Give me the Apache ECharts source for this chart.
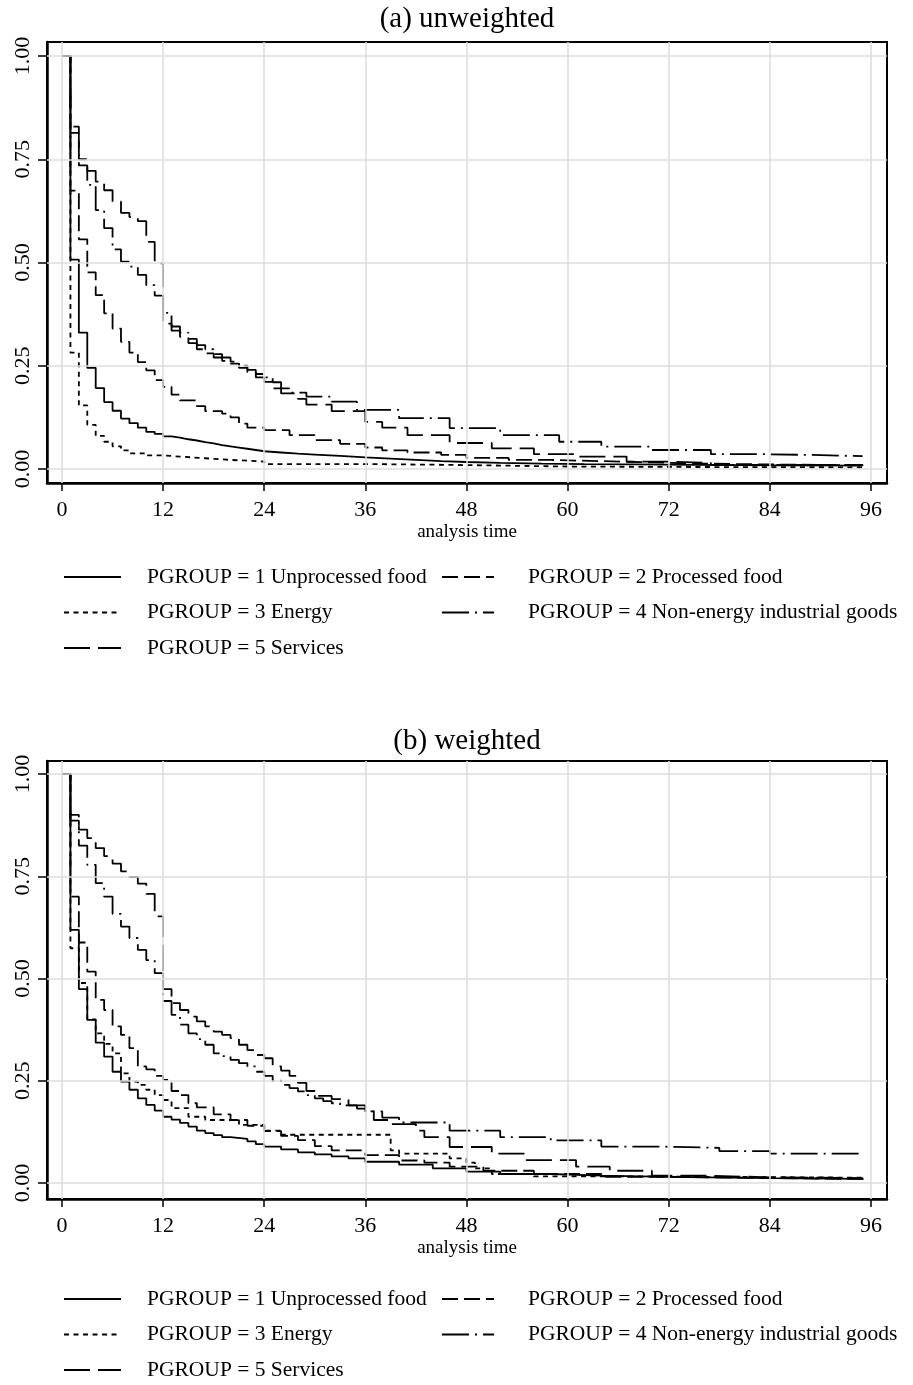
<!DOCTYPE html>
<html><head><meta charset="utf-8">
<script src="https://cdn.jsdelivr.net/npm/echarts@6/dist/echarts.min.js"></script>
<style>html,body{margin:0;padding:0;background:#fff}#c{width:913px;height:1385px}</style>
</head><body><div id="c"></div>
<script>
const xTicks = [0, 12, 24, 36, 48, 60, 72, 84, 96];
const yTicks = [0, 0.25, 0.5, 0.75, 1];
const groupNames = ['PGROUP = 1 Unprocessed food', 'PGROUP = 2 Processed food', 'PGROUP = 3 Energy',
  'PGROUP = 4 Non-energy industrial goods', 'PGROUP = 5 Services'];
const panelTitles = ['(a) unweighted', '(b) weighted'];
const xAxisTitle = 'analysis time';

// ---- panel (a) unweighted ----
const a1_t = [0,1,2,3,4,5,6,7,8,9,10,11,12,13,14,15,16,17,18,19,20,21,22,23,24,26,28,30,33,36,39,42,45,48,52,57,62,68,75,84,95];
const a1_s = [1,0.507,0.33,0.245,0.196,0.162,0.141,0.122,0.111,0.100,0.090,0.085,0.079,0.076,0.072,0.069,0.065,0.062,0.058,0.055,0.052,0.049,0.046,0.043,0.040,0.037,0.035,0.032,0.028,0.025,0.022,0.019,0.017,0.015,0.013,0.012,0.011,0.010,0.009,0.008,0.008];
const a2_t = [0,1,2,3,4,5,6,7,8,9,10,11,12,13,14,16,17,19,20,21,22,24,27,30,33,36,38,41,45,48,53,58,64,70,76,84,95];
const a2_s = [1,0.674,0.556,0.476,0.421,0.377,0.340,0.308,0.282,0.259,0.239,0.215,0.199,0.180,0.166,0.152,0.140,0.134,0.125,0.110,0.100,0.094,0.082,0.070,0.061,0.052,0.045,0.040,0.034,0.027,0.022,0.019,0.016,0.013,0.011,0.009,0.008];
const a3_t = [0,1,2,3,4,5,6,7,8,10,12,14,17,20,24,36,46,60,72,95];
const a3_s = [1,0.282,0.154,0.107,0.080,0.066,0.055,0.045,0.038,0.033,0.030,0.026,0.022,0.018,0.012,0.010,0.006,0.005,0.004,0.004];
const a4_t = [0,1,2,3,4,5,6,7,8,9,10,11,12,13,14,15,16,17,18,19,20,21,22,23,24,25,26,27,29,32,35,40,46,52,59,64,70,77,83,89,95];
const a4_s = [1,0.829,0.735,0.688,0.627,0.583,0.532,0.502,0.490,0.470,0.445,0.420,0.378,0.345,0.330,0.315,0.300,0.290,0.278,0.270,0.260,0.250,0.240,0.230,0.222,0.210,0.195,0.185,0.175,0.163,0.143,0.123,0.099,0.082,0.066,0.054,0.046,0.036,0.034,0.031,0.030];
const a5_t = [0,1,2,3,4,5,6,7,8,9,10,11,12,13,14,15,16,17,18,19,20,21,22,23,24,25,26,28,29,32,36,38,41,46,51,56,61,67,72,77,95];
const a5_s = [1,0.814,0.750,0.722,0.696,0.675,0.648,0.620,0.610,0.600,0.550,0.498,0.352,0.335,0.320,0.305,0.290,0.280,0.270,0.262,0.255,0.245,0.235,0.222,0.211,0.195,0.183,0.170,0.156,0.140,0.114,0.100,0.082,0.063,0.050,0.036,0.030,0.018,0.015,0.010,0.008];

// ---- panel (b) weighted ----
const b1_t = [0,1,2,3,4,5,6,7,8,9,10,11,12,13,14,15,16,17,18,19,20,22,23,24,26,28,30,32,34,36,40,44,48,52,58,64,72,84,95];
const b1_s = [1,0.619,0.474,0.399,0.343,0.309,0.272,0.248,0.228,0.207,0.191,0.177,0.162,0.155,0.147,0.138,0.128,0.122,0.117,0.112,0.108,0.102,0.095,0.089,0.082,0.075,0.070,0.065,0.060,0.052,0.045,0.036,0.028,0.022,0.018,0.015,0.012,0.010,0.008];
const b2_t = [0,1,2,3,4,5,6,7,8,9,10,11,12,13,14,15,16,18,20,22,24,26,28,30,32,36,40,43,46,50,56,64,72,84,95];
const b2_s = [1,0.700,0.588,0.517,0.448,0.423,0.383,0.362,0.330,0.285,0.278,0.262,0.252,0.225,0.215,0.195,0.185,0.168,0.154,0.140,0.127,0.115,0.105,0.090,0.080,0.068,0.055,0.050,0.040,0.030,0.022,0.015,0.012,0.010,0.008];
const b3_t = [0,1,2,3,4,5,6,7,8,9,10,11,12,13,15,17,21,24,26,39,40,46,48,49,51,56,70,95];
const b3_s = [1,0.574,0.489,0.400,0.366,0.340,0.317,0.268,0.248,0.240,0.228,0.215,0.203,0.183,0.162,0.154,0.142,0.128,0.118,0.080,0.072,0.060,0.050,0.036,0.022,0.016,0.013,0.012];
const b4_t = [0,1,2,3,4,5,6,7,8,9,10,11,12,13,14,15,16,17,18,19,20,21,22,23,24,25,26,27,28,29,30,31,32,33,35,36,38,40,46,52,58,64,71,78,84,95];
const b4_s = [1,0.886,0.825,0.778,0.733,0.700,0.658,0.627,0.599,0.570,0.545,0.513,0.445,0.411,0.387,0.366,0.352,0.338,0.317,0.310,0.301,0.293,0.285,0.272,0.262,0.250,0.240,0.232,0.224,0.215,0.207,0.200,0.195,0.190,0.182,0.175,0.160,0.148,0.128,0.112,0.104,0.089,0.086,0.078,0.072,0.072];
const b5_t = [0,1,2,3,4,5,6,7,8,9,10,11,12,13,14,15,16,17,18,19,20,21,22,23,24,25,26,27,28,29,30,32,34,36,37,39,42,43,46,51,55,61,65,70,76,84,95];
const b5_s = [1,0.900,0.864,0.843,0.819,0.799,0.781,0.762,0.748,0.732,0.707,0.652,0.474,0.440,0.423,0.407,0.395,0.383,0.370,0.362,0.354,0.338,0.325,0.313,0.305,0.285,0.275,0.262,0.245,0.225,0.213,0.205,0.190,0.175,0.154,0.144,0.128,0.112,0.088,0.072,0.056,0.040,0.030,0.018,0.014,0.012,0.010];

const panelData = [
  [[a1_t,a1_s],[a2_t,a2_s],[a3_t,a3_s],[a4_t,a4_s],[a5_t,a5_s]],
  [[b1_t,b1_s],[b2_t,b2_s],[b3_t,b3_s],[b4_t,b4_s],[b5_t,b5_s]]
];

const FONT = '"Liberation Serif", "Times New Roman", serif';
const dashes = ['solid', [16, 6], [5, 4.5], [27, 6, 2, 6], [26, 8]];
const grids = [
  {left: 47, top: 42, width: 840, height: 441},
  {left: 47, top: 761, width: 840, height: 438}
];
const yRanges = [[-0.0339, 1.0339], [-0.0391, 1.0318]];

const xAxes = [], yAxes = [], series = [], graphics = [], legends = [];
grids.forEach((g, p) => {
  xAxes.push({
    type: 'value', gridIndex: p, min: -1.78, max: 97.9,
    name: xAxisTitle, nameLocation: 'middle', nameGap: 40,
    nameTextStyle: {fontFamily: FONT, fontSize: 19, color: '#000'},
    axisLine: {show: true, onZero: false, lineStyle: {color: '#000', width: 2.5}},
    axisTick: {show: true, customValues: xTicks, length: 8, lineStyle: {color: '#000', width: 1.5}},
    axisLabel: {customValues: xTicks, fontFamily: FONT, fontSize: 22, color: '#000', margin: 16},
    splitLine: {show: false}
  });
  yAxes.push({
    type: 'value', gridIndex: p, min: yRanges[p][0], max: yRanges[p][1],
    axisLine: {show: true, onZero: false, lineStyle: {color: '#000', width: 2.5}},
    axisTick: {show: true, customValues: yTicks, length: 9, lineStyle: {color: '#000', width: 1.5}},
    axisLabel: {customValues: yTicks, rotate: 90, fontFamily: FONT, fontSize: 22, color: '#000', margin: 13,
      formatter: v => v.toFixed(2)},
    splitLine: {show: false}
  });
  // gridlines
  series.push({
    type: 'line', name: 'gridlines' + p, xAxisIndex: p, yAxisIndex: p, data: [], silent: true, z: 1,
    markLine: {
      symbol: 'none', silent: true, animation: false, label: {show: false},
      lineStyle: {color: '#dedede', width: 1.6, type: 'solid'}, emphasis: {disabled: true},
      data: xTicks.map(v => ({xAxis: v})).concat(yTicks.map(v => ({yAxis: v})))
    }
  });
  panelData[p].forEach((d, k) => {
    series.push({
      type: 'line', name: groupNames[k], xAxisIndex: p, yAxisIndex: p, step: 'end', symbol: 'none',
      z: 3, animation: false,
      itemStyle: {color: '#000'},
      lineStyle: {color: '#000', width: 1.8, type: dashes[k]},
      emphasis: {disabled: true},
      data: d[0].map((t, i) => [t, d[1][i]])
    });
  });
  graphics.push({
    type: 'text', x: 467, y: p === 0 ? 19 : 741,
    style: {text: panelTitles[p], font: '29px ' + FONT, fill: '#000', textAlign: 'center', textVerticalAlign: 'middle'}
  });
  const legTop = p === 0 ? 566 : 1288;
  const legCommon = {
    orient: 'vertical', itemHeight: 22, itemGap: 13.5, selectedMode: false, padding: 0,
    itemStyle: {opacity: 0, borderWidth: 0},
    textStyle: {fontFamily: FONT, fontSize: 21.5, color: '#000', lineHeight: 22}
  };
  legends.push(Object.assign({}, legCommon, {
    left: 63, top: legTop, itemWidth: 57, height: 110,
    data: [groupNames[0], groupNames[2], groupNames[4]],
    textStyle: Object.assign({}, legCommon.textStyle, {padding: [0, 0, 0, 21]})
  }));
  legends.push(Object.assign({}, legCommon, {
    left: 441, top: legTop, itemWidth: 52, height: 80,
    data: [groupNames[1], groupNames[3]],
    textStyle: Object.assign({}, legCommon.textStyle, {padding: [0, 0, 0, 29]})
  }));
});

const chart = echarts.init(document.getElementById('c'), null, {renderer: 'canvas'});
chart.setOption({
  backgroundColor: '#fff',
  animation: false,
  grid: grids.map(g => Object.assign({show: true, borderColor: '#000', borderWidth: 2, backgroundColor: 'transparent'}, g)),
  xAxis: xAxes,
  yAxis: yAxes,
  legend: legends,
  graphic: graphics,
  series: series
});
</script></body></html>
